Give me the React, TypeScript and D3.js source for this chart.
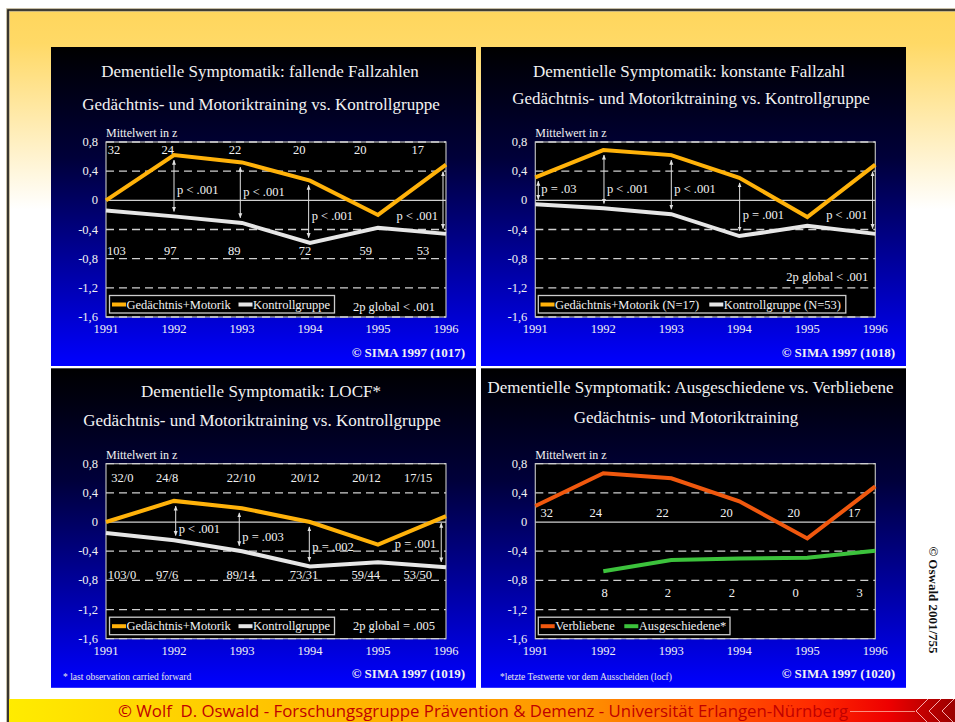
import React from 'react';
import * as d3 from 'd3';

// shared axes
const years = [1991, 1992, 1993, 1994, 1995, 1996];
const yTicks = [0.8, 0.4, 0, -0.4, -0.8, -1.2, -1.6];
const yTickLabels = ['0,8', '0,4', '0', '-0,4', '-0,8', '-1,2', '-1,6'];

// 1017: fallende Fallzahlen
const fallTraining = [0, 0.62, 0.52, 0.27, -0.2, 0.49];
const fallControl = [-0.14, -0.22, -0.31, -0.585, -0.375, -0.46];
const fallTrainingN = ['32', '24', '22', '20', '20', '17'];
const fallControlN = ['103', '97', '89', '72', '59', '53'];
const fallPYears = [1992, 1993, 1994, 1996];
const fallPText = ['p < .001', 'p < .001', 'p < .001', 'p < .001'];

// 1018: konstante Fallzahl
const constTraining = [0.315, 0.69, 0.62, 0.31, -0.23, 0.49];
const constControl = [-0.055, -0.11, -0.19, -0.49, -0.35, -0.46];
const constPYears = [1991, 1992, 1993, 1994, 1996];
const constPText = ['p = .03', 'p < .001', 'p < .001', 'p = .001', 'p < .001'];

// 1019: LOCF
const locfTraining = [0, 0.29, 0.19, 0.0, -0.31, 0.08];
const locfControl = [-0.15, -0.25, -0.4, -0.61, -0.55, -0.62];
const locfTrainingN = ['32/0', '24/8', '22/10', '20/12', '20/12', '17/15'];
const locfControlN = ['103/0', '97/6', '89/14', '73/31', '59/44', '53/50'];
const locfPYears = [1992, 1993, 1994, 1996];
const locfPText = ['p < .001', 'p = .003', 'p = .002', 'p = .001'];

// 1020: Ausgeschiedene vs. Verbliebene
const remaining = [0.22, 0.67, 0.6, 0.285, -0.225, 0.49];
const dropped: (number | null)[] = [null, -0.675, -0.52, -0.5, -0.49, -0.395];
const remainingN = ['32', '24', '22', '20', '20', '17'];
const droppedN = ['', '8', '2', '2', '0', '3'];

const YELLOW = '#FFB20A';
const WHITE = '#E6E6E6';
const ORANGE = '#F0580E';
const GREEN = '#3CC23C';
const SERIF = '"Liberation Serif", "Times New Roman", serif';

interface PTest { year: number; text: string; dx: number; ty: number; side: 'r' | 'l' }
interface LegendItem { label: string; color: string; x: number }
interface PanelProps {
  id: string;
  box: [number, number, number, number];
  plot: [number, number];
  titles: { text: string; x: number; y: number }[];
  series: { values: (number | null)[]; color: string }[];
  topN?: { labels: string[]; shift: number[]; y: number };
  bottomN?: { labels: string[]; shift: number[]; y: number };
  tests?: PTest[];
  legend: { x: number; w: number; items: LegendItem[] };
  global?: { text: string; x: number; y: number };
  sima: string;
  note?: { text: string; x: number };
}

const interp = (vals: (number | null)[], t: number) => {
  const i = Math.max(0, Math.min(4, Math.floor(t - 1991)));
  const f = t - 1991 - i;
  const a = vals[i] as number;
  const b = vals[i + 1] as number;
  return a + (b - a) * f;
};

const Panel: React.FC<PanelProps> = (p) => {
  const [bx, by, bw, bh] = p.box;
  const [pl, pt] = p.plot;
  const pw = 340;
  const ph = 175;
  const x = d3.scaleLinear().domain([1991, 1996]).range([pl, pl + pw]);
  const y = d3.scaleLinear().domain([-1.6, 0.8]).range([pt + ph, pt]);
  const line = d3
    .line<number | null>()
    .defined((d) => d !== null)
    .x((_, i) => x(years[i]))
    .y((d) => y(d as number));

  return (
    <g>
      <defs>
        <linearGradient id={`bg-${p.id}`} x1="0" y1="0" x2="0" y2="1">
          <stop offset="0" stopColor="#000000" />
          <stop offset="0.35" stopColor="#00003a" />
          <stop offset="1" stopColor="#0000ff" />
        </linearGradient>
      </defs>
      <rect x={bx} y={by} width={bw} height={bh} fill={`url(#bg-${p.id})`} />
      {p.titles.map((t, i) => (
        <text key={i} x={t.x} y={t.y} fill="#f2f2f2" fontSize={17} textAnchor="middle" dominantBaseline="central" fontFamily={SERIF}>
          {t.text}
        </text>
      ))}
      <text x={pl} y={pt - 9} fill="#f2f2f2" fontSize={12} dominantBaseline="central" fontFamily={SERIF}>
        Mittelwert in z
      </text>
      <rect x={pl} y={pt} width={pw} height={ph} fill="#000" stroke="#b8b8b8" strokeWidth={1.2} />
      {yTicks.map((t, i) => (
        <g key={t}>
          {t === 0 ? (
            <line x1={pl} x2={pl + pw} y1={y(t)} y2={y(t)} stroke="#cfcfcf" strokeWidth={1.3} />
          ) : (
            <line x1={pl} x2={pl + pw} y1={y(t)} y2={y(t)} stroke="#cfcfcf" strokeWidth={1.3} strokeDasharray="8,5" />
          )}
          <text x={pl - 8} y={y(t)} fill="#f2f2f2" fontSize={12.5} textAnchor="end" dominantBaseline="central" fontFamily={SERIF}>
            {yTickLabels[i]}
          </text>
        </g>
      ))}
      {years.map((yr) => (
        <text key={yr} x={x(yr)} y={pt + ph + 12} fill="#f2f2f2" fontSize={12.5} textAnchor="middle" dominantBaseline="central" fontFamily={SERIF}>
          {yr}
        </text>
      ))}
      {p.topN &&
        p.topN.labels.map((l, i) => (
          <text key={i} x={x(years[i] + p.topN!.shift[i])} y={y(p.topN!.y)} fill="#f2f2f2" fontSize={12.5} textAnchor="middle" dominantBaseline="central" fontFamily={SERIF}>
            {l}
          </text>
        ))}
      {p.bottomN &&
        p.bottomN.labels.map((l, i) => (
          <text key={i} x={x(years[i] + p.bottomN!.shift[i])} y={y(p.bottomN!.y)} fill="#f2f2f2" fontSize={12.5} textAnchor="middle" dominantBaseline="central" fontFamily={SERIF}>
            {l}
          </text>
        ))}
      {p.series.map((s, i) => (
        <path key={i} d={line(s.values) || ''} fill="none" stroke={s.color} strokeWidth={4} strokeLinejoin="miter" />
      ))}
      {p.tests &&
        p.tests.map((t, i) => {
          const ax = t.year + t.dx;
          const y1 = y(interp(p.series[0].values, ax)) + 5;
          const y2 = y(interp(p.series[1].values, ax)) - 5;
          const px = x(ax);
          return (
            <g key={i}>
              <line x1={px} x2={px} y1={y1} y2={y2} stroke="#e0e0e0" strokeWidth={1} markerStart="url(#arr)" markerEnd="url(#arr)" />
              <text
                x={t.side === 'r' ? px + 3 : px - 5}
                y={y(t.ty)}
                fill="#f2f2f2"
                fontSize={12.5}
                textAnchor={t.side === 'r' ? 'start' : 'end'}
                dominantBaseline="central"
                fontFamily={SERIF}
              >
                {t.text}
              </text>
            </g>
          );
        })}
      <rect x={p.legend.x} y={pt + ph - 21.5} width={p.legend.w} height={17.5} fill="#000" stroke="#cccccc" strokeWidth={1.3} />
      {p.legend.items.map((it, i) => (
        <g key={i}>
          <line x1={it.x} x2={it.x + 14} y1={pt + ph - 12.5} y2={pt + ph - 12.5} stroke={it.color} strokeWidth={4} />
          <text x={it.x + 14.5} y={pt + ph - 12.5} fill="#f2f2f2" fontSize={12.5} dominantBaseline="central" fontFamily={SERIF}>
            {it.label}
          </text>
        </g>
      ))}
      {p.global && (
        <text x={p.global.x} y={p.global.y} fill="#f2f2f2" fontSize={12.5} textAnchor="end" dominantBaseline="central" fontFamily={SERIF}>
          {p.global.text}
        </text>
      )}
      <text x={bx + bw - 11} y={by + bh - 14} fill="#f2f2f2" fontSize={13} fontWeight="bold" textAnchor="end" dominantBaseline="central" fontFamily={SERIF}>
        {p.sima}
      </text>
      {p.note && (
        <text x={p.note.x} y={by + bh - 11} fill="#e8e8e8" fontSize={9.5} dominantBaseline="central" fontFamily={SERIF}>
          {p.note.text}
        </text>
      )}
    </g>
  );
};

export default function App() {
  const fallTests: PTest[] = fallPYears.map((yr, i) => ({
    year: yr,
    text: fallPText[i],
    dx: [0, -0.025, -0.02, -0.044][i],
    ty: [0.137, 0.11, -0.22, -0.21][i],
    side: yr === 1996 ? 'l' : 'r',
  }));
  const constTests: PTest[] = constPYears.map((yr, i) => ({
    year: yr,
    text: constPText[i],
    dx: [0.044, 0.01, 0, 0.005, -0.04][i],
    ty: [0.16, 0.16, 0.15, -0.2, -0.2][i],
    side: yr === 1996 ? 'l' : 'r',
  }));
  const locfTests: PTest[] = locfPYears.map((yr, i) => ({
    year: yr,
    text: locfPText[i],
    dx: [0.025, -0.04, -0.01, -0.07][i],
    ty: [-0.09, -0.21, -0.345, -0.3][i],
    side: yr === 1996 ? 'l' : 'r',
  }));

  const pairLegend = (left: number, labels: string[], colors: string[], offs: number[], w: number) => ({
    x: left,
    w,
    items: labels.map((l, i) => ({ label: l, color: colors[i], x: left + offs[i] })),
  });

  return (
    <div style={{ position: 'absolute', left: 0, top: 0 }}>
      <svg width={955} height={722} viewBox="0 0 955 722" style={{ display: 'block' }}>
        <defs>
          <linearGradient id="slide" x1="0" y1="0" x2="0" y2="722" gradientUnits="userSpaceOnUse">
            <stop offset="0" stopColor="#FFD55A" />
            <stop offset="0.06" stopColor="#FFD966" />
            <stop offset="0.17" stopColor="#FFEBB0" />
            <stop offset="0.29" stopColor="#FFFFFF" />
            <stop offset="1" stopColor="#FFFFFF" />
          </linearGradient>
          <linearGradient id="footer" x1="0" y1="0" x2="1" y2="0">
            <stop offset="0" stopColor="#FFEC00" />
            <stop offset="0.3" stopColor="#FFC000" />
            <stop offset="0.6" stopColor="#FF9400" />
            <stop offset="0.85" stopColor="#FF2A00" />
            <stop offset="0.93" stopColor="#EE0000" />
            <stop offset="1" stopColor="#9A0000" />
          </linearGradient>
          <marker id="arr" viewBox="0 0 10 10" refX="9" refY="5" markerWidth="5" markerHeight="5" orient="auto-start-reverse" markerUnits="userSpaceOnUse">
            <path d="M0,1 L10,5 L0,9 z" fill="#e0e0e0" />
          </marker>
        </defs>
        <rect x={0} y={0} width={955} height={722} fill="#fff" />
        <rect x={8} y={10} width={947} height={712} fill="url(#slide)" />
        <path d="M8,722 V10 H955" fill="none" stroke="#b7ab8a" strokeWidth={3.5} />
        <path d="M8,722 V10 H955" fill="none" stroke="#1a1a1a" strokeWidth={1.6} />

        <Panel
          id="p1"
          box={[51, 47, 425, 319]}
          plot={[106, 142]}
          titles={[
            { text: 'Dementielle Symptomatik: fallende Fallzahlen', x: 260, y: 71 },
            { text: 'Gedächtnis- und Motoriktraining vs. Kontrollgruppe', x: 261, y: 104 },
          ]}
          series={[
            { values: fallTraining, color: YELLOW },
            { values: fallControl, color: WHITE },
          ]}
          topN={{ labels: fallTrainingN, shift: [0.118, -0.093, -0.103, -0.157, -0.26, -0.417], y: 0.686 }}
          bottomN={{ labels: fallControlN, shift: [0.152, -0.054, -0.113, -0.074, -0.181, -0.338], y: -0.695 }}
          tests={fallTests}
          legend={pairLegend(109.5, ['Gedächtnis+Motorik', 'Kontrollgruppe'], [YELLOW, WHITE], [2.5, 129], 225)}
          global={{ text: '2p global < .001', x: 435, y: 306.5 }}
          sima="© SIMA 1997 (1017)"
        />
        <Panel
          id="p2"
          box={[481, 47, 425, 319]}
          plot={[535.3, 142]}
          titles={[
            { text: 'Dementielle Symptomatik: konstante Fallzahl', x: 689, y: 71 },
            { text: 'Gedächtnis- und Motoriktraining vs. Kontrollgruppe', x: 691, y: 98.5 },
          ]}
          series={[
            { values: constTraining, color: YELLOW },
            { values: constControl, color: WHITE },
          ]}
          tests={constTests}
          legend={pairLegend(538.3, ['Gedächtnis+Motorik (N=17)', 'Kontrollgruppe (N=53)'], [YELLOW, WHITE], [2.2, 171], 307.5)}
          global={{ text: '2p global < .001', x: 868.3, y: y2p() }}
          sima="© SIMA 1997 (1018)"
        />
        <Panel
          id="p3"
          box={[51, 368.3, 425, 319.5]}
          plot={[106, 463.7]}
          titles={[
            { text: 'Dementielle Symptomatik: LOCF*', x: 261, y: 391 },
            { text: 'Gedächtnis- und Motoriktraining vs. Kontrollgruppe', x: 262, y: 420.5 },
          ]}
          series={[
            { values: locfTraining, color: YELLOW },
            { values: locfControl, color: WHITE },
          ]}
          topN={{ labels: locfTrainingN, shift: [0.24, -0.1, -0.015, -0.074, -0.17, -0.41], y: 0.607 }}
          bottomN={{ labels: locfControlN, shift: [0.235, -0.1, -0.02, -0.088, -0.18, -0.415], y: -0.72 }}
          tests={locfTests}
          legend={pairLegend(109.5, ['Gedächtnis+Motorik', 'Kontrollgruppe'], [YELLOW, WHITE], [2.5, 129], 225)}
          global={{ text: '2p global = .005', x: 435, y: 626 }}
          sima="© SIMA 1997 (1019)"
          note={{ text: '* last observation carried forward', x: 63 }}
        />
        <Panel
          id="p4"
          box={[481, 368.3, 425, 319.5]}
          plot={[535.3, 463.7]}
          titles={[
            { text: 'Dementielle Symptomatik: Ausgeschiedene vs. Verbliebene', x: 690.5, y: 387.5 },
            { text: 'Gedächtnis- und Motoriktraining', x: 686, y: 417.5 },
          ]}
          series={[
            { values: remaining, color: ORANGE },
            { values: dropped, color: GREEN },
          ]}
          topN={{ labels: remainingN, shift: [0.17, -0.11, -0.13, -0.19, -0.2, -0.31], y: 0.124 }}
          bottomN={{ labels: droppedN, shift: [0, 0.02, -0.05, -0.11, -0.17, -0.23], y: -0.97 }}
          legend={pairLegend(538.3, ['Verbliebene', 'Ausgeschiedene*'], [ORANGE, GREEN], [2.4, 86], 191.7)}
          sima="© SIMA 1997 (1020)"
          note={{ text: '*letzte Testwerte vor dem Ausscheiden (locf)', x: 500 }}
        />

        <text
          transform="translate(933,600) rotate(90)"
          fontSize={13}
          fontWeight="bold"
          textAnchor="middle"
          dominantBaseline="central"
          fontFamily={SERIF}
          fill="#111"
        >
          © Oswald 2001/755
        </text>

        <rect x={9} y={699} width={946} height={23} fill="url(#footer)" />
        <line x1={850} x2={915} y1={711.5} y2={711.5} stroke="#ffb0a0" strokeWidth={0.8} />
        {[0, 1, 2].map((i) => (
          <path
            key={i}
            d={`M${928 + i * 13},699 L${916 + i * 13},711 L${928 + i * 13},723`}
            fill="none"
            stroke="#ffc0c0"
            strokeWidth={0.9}
          />
        ))}
        <text
          x={483}
          y={711}
          fontSize={15.5}
          textAnchor="middle"
          dominantBaseline="central"
          fontFamily='"Open Sans", "Noto Sans", sans-serif'
          fill="#C00000"
          textLength={730}
          lengthAdjust="spacingAndGlyphs"
          style={{ whiteSpace: 'pre' }}
        >
          {'© Wolf  D. Oswald - Forschungsgruppe Prävention & Demenz - Universität Erlangen-Nürnberg'}
        </text>
      </svg>
    </div>
  );
}

function y2p() {
  // -1.05 on the 1018 panel's value axis
  return d3.scaleLinear().domain([-1.6, 0.8]).range([142 + 175, 142])(-1.05);
}
